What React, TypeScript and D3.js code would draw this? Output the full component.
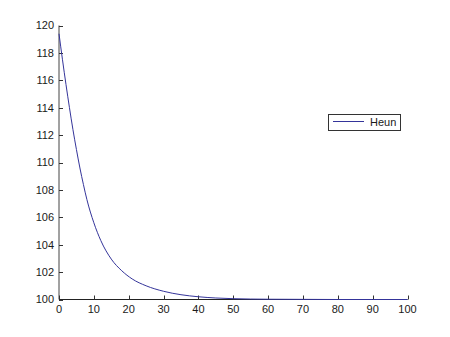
import React from "react";
import * as d3 from "d3";

const tValues = [0, 1, 2, 3, 4, 5, 6, 7, 8, 10, 12, 15, 18, 21, 25, 30, 35, 40, 45, 50, 60, 70, 80, 90, 100];
const heunValues = [119.4, 117.5, 115.7, 114.0, 112.4, 110.95, 109.6, 108.4, 107.3, 105.6, 104.3, 102.95, 102.1, 101.5, 101.0, 100.6, 100.35, 100.2, 100.11, 100.06, 100.02, 100.01, 100.0, 100.0, 100.0];
const xTicks = [0, 10, 20, 30, 40, 50, 60, 70, 80, 90, 100];
const yTicks = [100, 102, 104, 106, 108, 110, 112, 114, 116, 118, 120];
const seriesName = "Heun";

export default function App() {
  const W = 450, H = 337;
  const x = d3.scaleLinear().domain([0, 100]).range([59, 407.5]);
  const y = d3.scaleLinear().domain([100, 120]).range([299.5, 25.5]);
  const data = tValues.map((t, i) => [t, heunValues[i]] as [number, number]);
  const line = d3.line<[number, number]>().x(d => x(d[0])).y(d => y(d[1])).curve(d3.curveMonotoneX);
  const font = "'Liberation Sans', Arial, sans-serif";
  const lineColor = "#34349a";
  return (
    <svg width={W} height={H} style={{ position: "absolute", left: 0, top: 0, background: "#fff" }}>
      <rect x={0} y={0} width={W} height={H} fill="#fff" />
      <line x1={x(0)} x2={x(0)} y1={y(120)} y2={y(100)} stroke="#444" strokeWidth={1} />
      <line x1={x(0)} x2={x(100)} y1={y(100)} y2={y(100)} stroke="#222" strokeWidth={1} />
      {yTicks.map(v => (
        <g key={"y" + v}>
          <line x1={x(0)} x2={x(0) + 4} y1={Math.round(y(v)) + 0.5} y2={Math.round(y(v)) + 0.5} stroke="#333" />
          <text x={x(0) - 5} y={y(v)} dy="0.35em" textAnchor="end" fontSize={11} fontFamily={font} fill="#1a1a1a">{v}</text>
        </g>
      ))}
      {xTicks.map(v => (
        <g key={"x" + v}>
          <line x1={Math.round(x(v)) + 0.5} x2={Math.round(x(v)) + 0.5} y1={y(100)} y2={y(100) - 4} stroke="#333" />
          <text x={x(v)} y={y(100) + 13} textAnchor="middle" fontSize={11} fontFamily={font} fill="#1a1a1a">{v}</text>
        </g>
      ))}
      <path d={line(data) || ""} fill="none" stroke={lineColor} strokeWidth={1} />
      <rect x={328.5} y={114.5} width={72} height={16} fill="#fff" stroke="#333" strokeWidth={1} />
      <line x1={333} x2={364} y1={121.5} y2={121.5} stroke={lineColor} strokeWidth={1} />
      <text x={370} y={126} fontSize={11} fontFamily={font} fill="#1a1a1a">{seriesName}</text>
    </svg>
  );
}
